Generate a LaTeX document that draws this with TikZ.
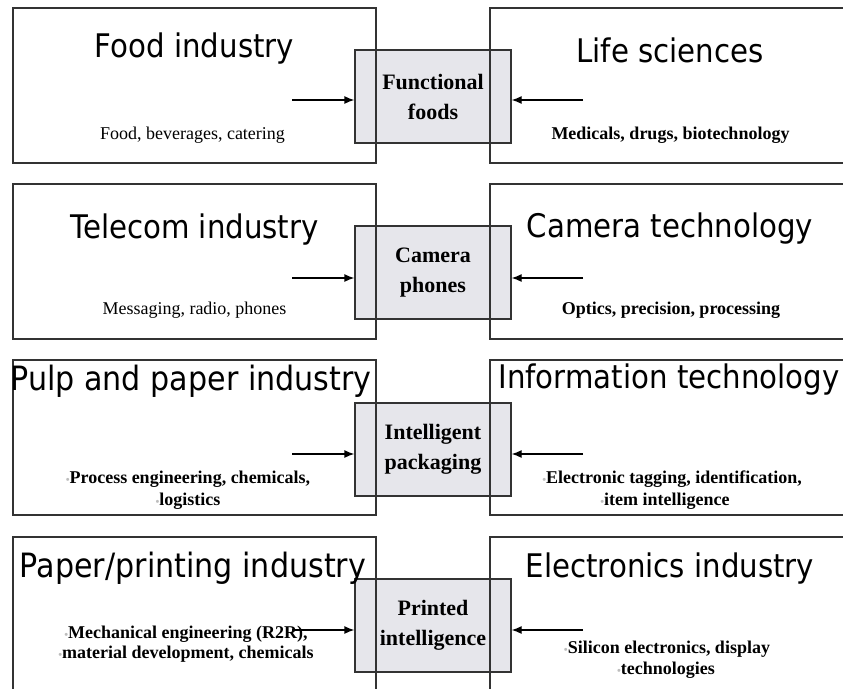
\documentclass[tikz,border=0pt]{standalone}
\usepackage{fontspec}
\setmainfont{Liberation Serif}
\newfontfamily\titlefont[FakeStretch=0.9]{DejaVu Sans}
\usetikzlibrary{arrows.meta}
\definecolor{edge}{HTML}{333333}
\definecolor{midfill}{HTML}{E6E6EB}
\definecolor{dotgray}{HTML}{BDBDBD}
\newcommand\mybul{{\color{dotgray}\fontsize{11}{11}\selectfont\textbullet}}
\begin{document}
\begin{tikzpicture}[x=1pt,y=-1pt,
  bigbox/.style={draw=edge, line width=1.2pt, minimum width=363pt, minimum height=155pt, inner sep=0pt},
  midbox/.style={draw=edge, fill=midfill, line width=1.3pt, minimum width=156pt, minimum height=93pt, inner sep=0pt, align=center, font=\fontsize{22}{30}\selectfont\bfseries},
  ttl/.style={anchor=base, inner sep=0pt, font=\titlefont\fontsize{32.5}{38}\selectfont},
  ttlw/.style={anchor=base, inner sep=0pt, font=\titlefont\fontsize{33.5}{38}\selectfont},
  sub/.style={anchor=base, inner sep=0pt, font=\fontsize{18}{22}\selectfont},
  bsub/.style={anchor=base, inner sep=0pt, font=\fontsize{18}{22}\selectfont\bfseries},
  arr/.style={draw=black, line width=1.3pt, -{Latex[length=10pt,width=8pt]}},
]
\useasboundingbox (0,0) rectangle (843,688);
\clip (0,0) rectangle (843,688);

% ---------- center boxes (drawn first) ----------
\node[midbox] (M1) at (433,96.5)  {Functional\\foods};
\node[midbox] (M2) at (433,272.5) {Camera\\phones};
\node[midbox] (M3) at (433,449.5) {Intelligent\\packaging};
\node[midbox] (M4) at (433,625.5) {Printed\\intelligence};

% ---------- big boxes ----------
\node[bigbox] (L1) at (194.5,85.5)  {};
\node[bigbox] (R1) at (671.5,85.5)  {};
\node[bigbox] (L2) at (194.5,261.5) {};
\node[bigbox] (R2) at (671.5,261.5) {};
\node[bigbox] (L3) at (194.5,437.5) {};
\node[bigbox] (R3) at (671.5,437.5) {};
\node[bigbox] (L4) at (194.5,614.5) {};
\node[bigbox] (R4) at (671.5,614.5) {};

% ---------- titles ----------
\node[ttl]  (tL1) at (194.5,57)  {Food industry};
\node[ttl]  (tR1) at (670,62)    {Life sciences};
\node[ttl]  (tL2) at (194.5,238) {Telecom industry};
\node[ttl]  (tR2) at (670,237)   {Camera technology};
\node[ttlw] (tL3) at (191,390)   {Pulp and paper industry};
\node[ttl]  (tR3) at (669,388)   {Information technology};
\node[ttlw] (tL4) at (193,577)   {Paper/printing industry};
\node[ttl]  (tR4) at (670,577)   {Electronics industry};

% ---------- subtitles ----------
\node[sub]  (sL1) at (192.5,139) {Food, beverages, catering};
\node[bsub] (sR1) at (670.5,139) {Medicals, drugs, biotechnology};
\node[sub]  (sL2) at (194.5,314) {Messaging, radio, phones};
\node[bsub] (sR2) at (671,314)   {Optics, precision, processing};
\node[bsub] (sL3a) at (188,483)  {\mybul Process engineering, chemicals,};
\node[bsub] (sL3b) at (188,505)  {\mybul logistics};
\node[bsub] (sR3a) at (672,483)  {\mybul Electronic tagging, identification,};
\node[bsub] (sR3b) at (665,505)  {\mybul item intelligence};
\node[bsub] (sL4a) at (186,638)  {\mybul Mechanical engineering (R2R),};
\node[bsub] (sL4b) at (186,658)  {\mybul material development, chemicals};
\node[bsub] (sR4a) at (667,653)  {\mybul Silicon electronics, display};
\node[bsub] (sR4b) at (666,674)  {\mybul technologies};

% ---------- arrows ----------
\coordinate (a1) at (292,100);
\coordinate (b1) at (583,100);
\coordinate (a2) at (292,278);
\coordinate (b2) at (583,278);
\coordinate (a3) at (292,454);
\coordinate (b3) at (583,454);
\coordinate (a4) at (292,630);
\coordinate (b4) at (583,630);
\draw[arr] (a1) -- (a1 -| M1.west);
\draw[arr] (b1) -- (b1 -| M1.east);
\draw[arr] (a2) -- (a2 -| M2.west);
\draw[arr] (b2) -- (b2 -| M2.east);
\draw[arr] (a3) -- (a3 -| M3.west);
\draw[arr] (b3) -- (b3 -| M3.east);
\draw[arr] (a4) -- (a4 -| M4.west);
\draw[arr] (b4) -- (b4 -| M4.east);
\end{tikzpicture}
\end{document}
